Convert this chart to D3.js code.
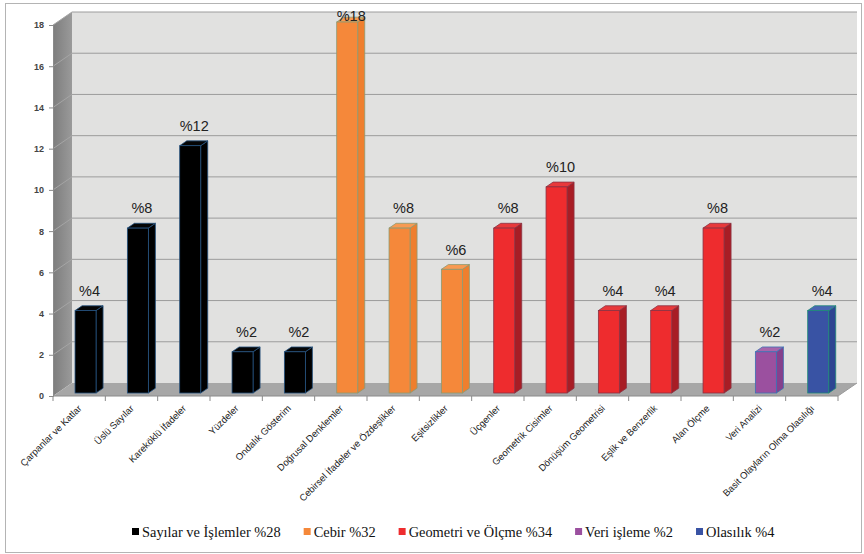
<!DOCTYPE html>
<html>
<head>
<meta charset="utf-8">
<title>Konu dağılımı</title>
<style>
  body { margin: 0; background: #fff; }
</style>
</head>
<body>
<div class="plot_container"></div>
<script src="https://cdn.jsdelivr.net/npm/d3@7/dist/d3.min.js"></script>
<script>
var categories = ["Çarpanlar ve Katlar", "Üslü Sayılar", "Kareköklü İfadeler", "Yüzdeler",
    "Ondalık Gösterim", "Doğrusal Denklemler", "Cebirsel İfadeler ve Özdeşlikler", "Eşitsizlikler",
    "Üçgenler", "Geometrik Cisimler", "Dönüşüm Geometrisi", "Eşlik ve Benzerlik", "Alan Ölçme",
    "Veri Analizi", "Basit Olayların Olma Olasılığı"];
var values = [4, 8, 12, 2, 2, 18, 8, 6, 8, 10, 4, 4, 8, 2, 4];
var groupOf = [0, 0, 0, 0, 0, 1, 1, 1, 2, 2, 2, 2, 2, 3, 4];
var groupNames = ["Sayılar ve İşlemler %28", "Cebir %32", "Geometri ve Ölçme %34", "Veri işleme %2", "Olasılık %4"];
var yTicks = [0, 2, 4, 6, 8, 10, 12, 14, 16, 18];

var palette = [
    {front: "#000000", side: "#000000", top: "#050505", stroke: "#24527f", key: "#000000"},
    {front: "#f5883a", side: "#ef7f2e", top: "#f89a52", stroke: "#8d9a72", key: "#f5883a"},
    {front: "#ee2c2e", side: "#a81d25", top: "#e8393b", stroke: "#8a3344", key: "#ee2c2e"},
    {front: "#9b509f", side: "#85408d", top: "#a865ab", stroke: "#3b71b3", key: "#9b509f"},
    {front: "#3953a4", side: "#2d4592", top: "#4b65b3", stroke: "#1f8a78", key: "#3953a4"}
];

var width = 864, height = 554;
var depthX = 19, depthY = -13;      // full depth of floor / walls
var barOff = 0.23, barDepth = 0.37;  // bar position inside depth
var barW = 21;

var svg = d3.select(".plot_container").append("svg")
    .attr("width", width)
    .attr("height", height);

// outer border
svg.append("rect")
    .attr("x", 5.5).attr("y", 3.5)
    .attr("width", 856).attr("height", 549)
    .attr("fill", "none").attr("stroke", "#b4b4b4");

var x = d3.scaleBand().domain(categories).range([53, 838]).padding(0);
var y = d3.scaleLinear().domain([0, 18]).range([396, 25]);

var x0 = 53, x1 = 838, yBot = y(0), yTop = y(18);

function pts(a) { return a.map(function(p){ return p.join(","); }).join(" "); }

// back wall
svg.append("polygon")
    .attr("points", pts([[x0 + depthX, yTop + depthY], [x1 + depthX, yTop + depthY],
        [x1 + depthX, yBot + depthY], [x0 + depthX, yBot + depthY]]))
    .attr("fill", "#e1e1e0");

// left wall
var leftGrad = svg.append("defs").append("linearGradient")
    .attr("id", "lw").attr("x1", 0).attr("x2", 1).attr("y1", 0).attr("y2", 0);
leftGrad.append("stop").attr("offset", 0).attr("stop-color", "#7d7d7d");
leftGrad.append("stop").attr("offset", 1).attr("stop-color", "#9a9a9a");
svg.append("polygon")
    .attr("points", pts([[x0, yTop], [x0 + depthX, yTop + depthY],
        [x0 + depthX, yBot + depthY], [x0, yBot]]))
    .attr("fill", "url(#lw)");

// floor
svg.append("polygon")
    .attr("points", pts([[x0, yBot], [x0 + depthX, yBot + depthY],
        [x1 + depthX, yBot + depthY], [x1, yBot]]))
    .attr("fill", "#a7a7a7");

// gridlines on back wall and left wall
svg.selectAll(".grid").data(yTicks.filter(function(d){ return d > 0; }))
    .enter().append("line")
    .attr("class", "grid")
    .attr("x1", x0 + depthX).attr("x2", x1 + depthX)
    .attr("y1", function(d){ return y(d) + depthY; })
    .attr("y2", function(d){ return y(d) + depthY; })
    .attr("stroke", "#9c9c9c").attr("stroke-width", 1);
svg.selectAll(".gridl").data(yTicks.filter(function(d){ return d > 0; }))
    .enter().append("line")
    .attr("class", "gridl")
    .attr("x1", x0).attr("x2", x0 + depthX)
    .attr("y1", function(d){ return y(d); })
    .attr("y2", function(d){ return y(d) + depthY; })
    .attr("stroke", "#a5a5a5").attr("stroke-width", 1);

// floor right edge
svg.append("line")
    .attr("x1", x1).attr("y1", yBot).attr("x2", x1 + depthX).attr("y2", yBot + depthY)
    .attr("stroke", "#9a9a9a");

// y axis
var yAxis = d3.axisLeft(y).tickValues(yTicks).tickSize(4).tickPadding(5);
var gy = svg.append("g").attr("transform", "translate(" + x0 + ",0)").call(yAxis);
gy.select(".domain").attr("stroke", "#8a8a8a");
gy.selectAll(".tick line").attr("stroke", "#8a8a8a");
gy.selectAll("text")
    .attr("font-family", "Liberation Sans, Arial, sans-serif")
    .attr("font-size", 9).attr("font-weight", "bold").attr("fill", "#444");

// x axis
var gx = svg.append("g").attr("transform", "translate(0," + yBot + ")");
gx.append("line").attr("x1", x0).attr("x2", x1).attr("stroke", "#8a8a8a");
var tickPos = categories.map(function(c){ return x(c); }).concat([x1]);
gx.selectAll(".xt").data(tickPos).enter().append("line")
    .attr("x1", function(d){ return d; }).attr("x2", function(d){ return d; })
    .attr("y1", 0).attr("y2", 5).attr("stroke", "#8a8a8a");
gx.selectAll(".xl").data(categories).enter().append("text")
    .attr("transform", function(d){
        return "translate(" + (x(d) + x.bandwidth() / 2 + 3) + ",13) rotate(-45)";
    })
    .attr("text-anchor", "end")
    .attr("font-family", "Liberation Sans, Arial, sans-serif")
    .attr("font-size", 9.5).attr("fill", "#222")
    .text(function(d){ return d; });

// bars
var ox = depthX * barOff, oy = depthY * barOff;
var bx = depthX * barDepth, by = depthY * barDepth;
var bars = svg.selectAll(".bar").data(values).enter().append("g").attr("class", "bar");
bars.each(function(d, i){
    var g = d3.select(this);
    var c = palette[groupOf[i]];
    var left = x(categories[i]) + x.bandwidth() / 2 - barW / 2 + ox + 2;
    var right = left + barW;
    var top = y(d) + oy, bottom = yBot + oy;
    // side
    g.append("polygon")
        .attr("points", pts([[right, top], [right + bx, top + by], [right + bx, bottom + by], [right, bottom]]))
        .attr("fill", c.side).attr("stroke", c.stroke).attr("stroke-width", 0.8);
    // top
    g.append("polygon")
        .attr("points", pts([[left, top], [left + bx, top + by], [right + bx, top + by], [right, top]]))
        .attr("fill", c.top).attr("stroke", c.stroke).attr("stroke-width", 0.8);
    // front
    g.append("rect")
        .attr("x", left).attr("y", top).attr("width", barW).attr("height", bottom - top)
        .attr("fill", c.front).attr("stroke", c.stroke).attr("stroke-width", 0.8);
    // value label
    g.append("text")
        .attr("x", left + barW / 2 + 4)
        .attr("y", Math.max(top + by - 10, 21))
        .attr("text-anchor", "middle")
        .attr("font-family", "Liberation Sans, Arial, sans-serif")
        .attr("font-size", 14.5).attr("fill", "#222")
        .text("%" + d);
});

// legend
var legend = svg.append("g").attr("transform", "translate(132,537)");
var lx = 0;
groupNames.forEach(function(name, i){
    var item = legend.append("g").attr("transform", "translate(" + lx + ",0)");
    item.append("rect").attr("x", 0).attr("y", -9).attr("width", 7).attr("height", 7)
        .attr("fill", palette[i].key);
    var t = item.append("text").attr("x", 10).attr("y", 0)
        .attr("font-family", "Liberation Serif, Times New Roman, serif")
        .attr("font-size", 14.4).attr("fill", "#111")
        .text(name);
    lx += 10 + t.node().getComputedTextLength() + 23;
});
</script>
</body>
</html>
